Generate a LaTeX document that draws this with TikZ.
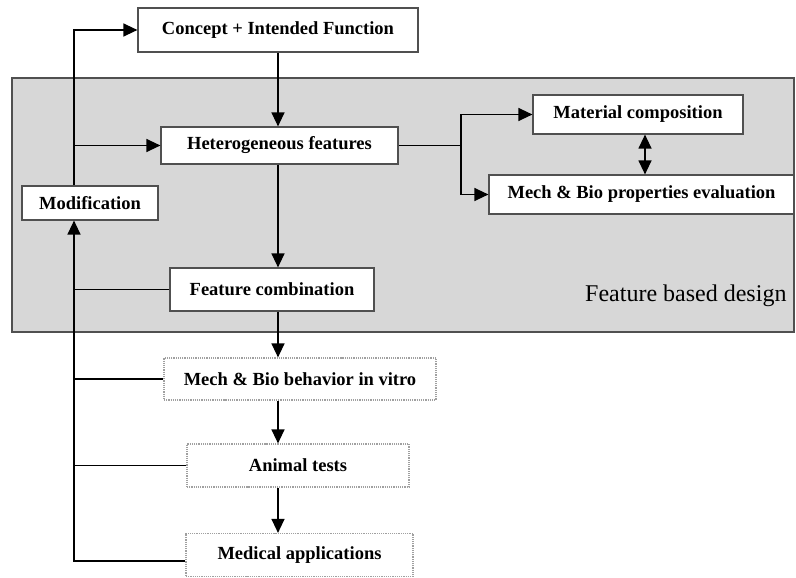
\documentclass[tikz,border=0pt]{standalone}
\usepackage{fontspec}
\setmainfont{Liberation Serif}
\usetikzlibrary{arrows.meta,positioning,calc}
\definecolor{cpanel}{RGB}{215,215,215}
\definecolor{cedge}{RGB}{80,80,80}
\definecolor{clight}{RGB}{160,160,160}

\begin{document}
\begin{tikzpicture}[x=1bp,y=-1bp,>={Triangle[length=14bp,width=13bp]},
  box/.style={draw=cedge,line width=1.2bp,fill=white,align=center,inner sep=0pt,
    font=\fontsize{18.5bp}{22bp}\selectfont\bfseries},
  softbox/.style={box,draw=clight,densely dotted},
  link/.style={line width=1.3bp,black}]
\useasboundingbox (0,0) rectangle (796,578);

% ===== design panel =====
\node[draw=cedge,line width=1.6bp,fill=cpanel,minimum width=782bp,minimum height=254bp,inner sep=0pt] (panel) at (403,205) {};
\node[font=\fontsize{24bp}{28bp}\selectfont,anchor=east] (fbd) at (790,296) {Feature based design};

% ===== boxes =====
\node[box,minimum width=280bp,minimum height=44bp] (concept) at (278,30) {Concept + Intended Function};
\node[box,minimum width=237bp,minimum height=37bp] (hetero) at (279.5,145.5) {Heterogeneous features};
\node[box,minimum width=136bp,minimum height=34bp] (modif) at (90,203) {Modification};
\node[box,minimum width=204bp,minimum height=43bp] (fcomb) at (272,289.5) {Feature combination};
\node[box,minimum width=210bp,minimum height=39bp] (matcomp) at (638,114.5) {Material composition};
\node[box,minimum width=305bp,minimum height=39bp] (mechprop) at (641.5,194.5) {Mech \& Bio properties evaluation};
\node[softbox,minimum width=272bp,minimum height=42bp] (vitro) at (300,379) {Mech \& Bio behavior in vitro};
\node[softbox,minimum width=222bp,minimum height=43bp] (animal) at (298,465.5) {Animal tests};
\node[softbox,minimum width=227bp,minimum height=43bp] (medic) at (299.5,555) {Medical applications};

% ===== main flow =====
\coordinate (bus) at (74,32);
\coordinate (split) at (461,148);
\draw[->,link] (concept.south) -- (concept.south |- hetero.north);
\draw[->,link] (concept.south |- hetero.south) -- (concept.south |- fcomb.north);
\draw[->,link] (concept.south |- fcomb.south) -- (concept.south |- vitro.north);
\draw[->,link] (concept.south |- vitro.south) -- (concept.south |- animal.north);
\draw[->,link] (concept.south |- animal.south) -- (concept.south |- medic.north);

% ===== right branch =====
\draw[link] (hetero.east) -- (split |- hetero.east);
\draw[->,link] (split |- hetero.east) |- (matcomp.west);
\draw[->,link] (split |- hetero.east) |- (mechprop.west);
\draw[<->,link] ([xshift=7bp]matcomp.south) -- ([xshift=7bp]matcomp.south |- mechprop.north);

% ===== feedback loop =====
\draw[->,link] (bus |- modif.north) |- (concept.west);
\draw[->,link] (bus |- hetero.west) -- (hetero.west);
\draw[->,link] ([yshift=-6bp]medic.west) -| (bus |- modif.south);
\foreach \n in {fcomb,vitro,animal}{\draw[link] (\n.west) -- (bus |- \n.west);}
\end{tikzpicture}
\end{document}
